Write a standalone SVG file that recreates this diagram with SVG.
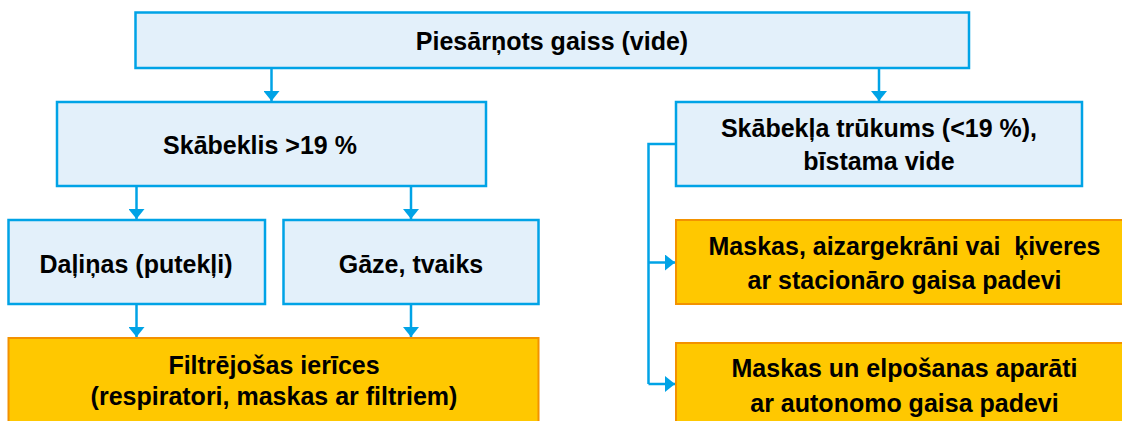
<svg xmlns="http://www.w3.org/2000/svg" width="1122" height="421" viewBox="0 0 1122 421">
<defs>
<style>
.b{fill:#E3F0FA;stroke:#00A3E6;stroke-width:2.5}
.o{fill:#FFC800;stroke:#F39200;stroke-width:2}
.t{font-family:"Liberation Sans",Arial,sans-serif;font-weight:bold;font-size:25px;fill:#000;text-anchor:middle}
.c{fill:none;stroke:#00A3E6;stroke-width:2.5}
</style>
<marker id="ah" viewBox="0 0 10 16" refX="10" refY="8" markerUnits="userSpaceOnUse" markerWidth="10" markerHeight="16" orient="auto">
<path d="M0,0 L10,8 L0,16 Z" fill="#00A3E6"/>
</marker>
</defs>
<rect width="1122" height="421" fill="#fff"/>
<g id="connectors">
<path class="c" d="M271.5,68 V101" marker-end="url(#ah)"/>
<path class="c" d="M879,68 V101" marker-end="url(#ah)"/>
<path class="c" d="M136.5,186 V219" marker-end="url(#ah)"/>
<path class="c" d="M411,186 V219" marker-end="url(#ah)"/>
<path class="c" d="M136.5,304 V337" marker-end="url(#ah)"/>
<path class="c" d="M411,304 V337" marker-end="url(#ah)"/>
<path class="c" d="M676,144 H648.5 V384"/>
<path class="c" d="M648.5,262.5 H675" marker-end="url(#ah)"/>
<path class="c" d="M648.5,384 H675" marker-end="url(#ah)"/>
</g>
<g id="n-top">
<rect class="b" x="135.5" y="12.5" width="833.5" height="55.5"/>
<text class="t" x="552" y="50">Piesārņots gaiss (vide)</text>
</g>
<g id="n-sk">
<rect class="b" x="57" y="102" width="429" height="84"/>
<text class="t" x="260" y="154">Skābeklis &gt;19 %</text>
</g>
<g id="n-trukums">
<rect class="b" x="676" y="102" width="406" height="84"/>
<text class="t" x="879" y="137">Skābekļa trūkums (&lt;19 %),</text>
<text class="t" x="879" y="170">bīstama vide</text>
</g>
<g id="n-dalinas">
<rect class="b" x="8.5" y="220" width="256.5" height="84"/>
<text class="t" x="136" y="272.5">Daļiņas (putekļi)</text>
</g>
<g id="n-gaze">
<rect class="b" x="283.5" y="220" width="255" height="84"/>
<text class="t" x="411" y="272.5">Gāze, tvaiks</text>
</g>
<g id="n-filtr">
<rect class="o" x="8.5" y="338" width="530" height="100"/>
<text class="t" x="274" y="374">Filtrējošas ierīces</text>
<text class="t" x="274" y="405">(respiratori, maskas ar filtriem)</text>
</g>
<g id="n-stac">
<rect class="o" x="676" y="220" width="460" height="84"/>
<text class="t" x="904.5" y="255" xml:space="preserve">Maskas, aizargekrāni vai  ķiveres</text>
<text class="t" x="904.5" y="289">ar stacionāro gaisa padevi</text>
</g>
<g id="n-auton">
<rect class="o" x="676" y="343" width="460" height="100"/>
<text class="t" x="904.5" y="377">Maskas un elpošanas aparāti</text>
<text class="t" x="904.5" y="411.5">ar autonomo gaisa padevi</text>
</g>
</svg>
